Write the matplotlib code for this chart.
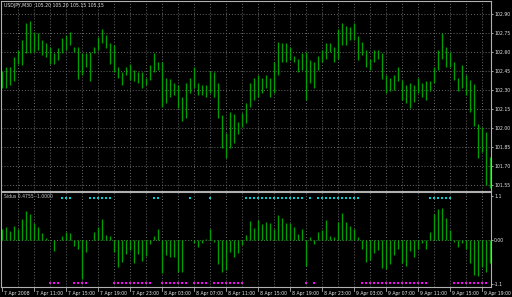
"""
Grafico estilo MetaTrader: barras USDJPY M30 con un indicador de histograma abajo.
"""

import matplotlib
matplotlib.use("Agg")
import matplotlib.pyplot as plt
import matplotlib.transforms as mtransforms
import numpy as np

# Maximos y minimos de cada barra
maximos = [
    102.45, 102.48, 102.48, 102.56, 102.62, 102.70, 102.83, 102.85, 102.76, 102.75,
    102.70, 102.67, 102.64, 102.59, 102.63, 102.71, 102.74, 102.76, 102.64, 102.64,
    102.59, 102.59, 102.60, 102.64, 102.72, 102.78, 102.74, 102.67, 102.66, 102.48,
    102.44, 102.48, 102.51, 102.46, 102.44, 102.44, 102.40, 102.50, 102.59, 102.52,
    102.52, 102.40, 102.39, 102.36, 102.34, 102.25, 102.36, 102.40, 102.48, 102.36,
    102.34, 102.34, 102.45, 102.44, 102.36, 102.10, 101.96, 102.13, 102.11, 102.05,
    102.12, 102.20, 102.36, 102.40, 102.42, 102.40, 102.42, 102.40, 102.52, 102.68,
    102.67, 102.67, 102.64, 102.57, 102.55, 102.59, 102.60, 102.54, 102.52, 102.57,
    102.62, 102.67, 102.67, 102.64, 102.78, 102.83, 102.81, 102.80, 102.83, 102.73,
    102.68, 102.62, 102.55, 102.62, 102.62, 102.59, 102.42, 102.40, 102.42, 102.48,
    102.38, 102.34, 102.36, 102.34, 102.40, 102.36, 102.37, 102.37, 102.48, 102.62,
    102.75, 102.64, 102.60, 102.52, 102.40, 102.50, 102.42, 102.38, 102.35, 102.03,
    102.01, 101.97, 101.77,
]
minimos = [
    102.32, 102.32, 102.34, 102.37, 102.51, 102.50, 102.59, 102.59, 102.60, 102.62,
    102.58, 102.56, 102.51, 102.51, 102.54, 102.59, 102.62, 102.66, 102.60, 102.39,
    102.42, 102.48, 102.37, 102.59, 102.62, 102.67, 102.63, 102.51, 102.44, 102.40,
    102.34, 102.42, 102.38, 102.37, 102.36, 102.32, 102.34, 102.38, 102.44, 102.46,
    102.17, 102.20, 102.25, 102.26, 102.16, 102.06, 102.08, 102.28, 102.32, 102.26,
    102.26, 102.25, 102.28, 102.25, 102.08, 101.84, 101.76, 101.84, 101.88, 101.95,
    102.01, 102.04, 102.17, 102.22, 102.25, 102.28, 102.32, 102.25, 102.28, 102.42,
    102.52, 102.52, 102.54, 102.52, 102.44, 102.46, 102.22, 102.36, 102.32, 102.46,
    102.52, 102.55, 102.60, 102.52, 102.55, 102.66, 102.66, 102.70, 102.70, 102.54,
    102.58, 102.48, 102.46, 102.52, 102.55, 102.39, 102.28, 102.29, 102.30, 102.37,
    102.22, 102.20, 102.16, 102.21, 102.28, 102.25, 102.22, 102.29, 102.36, 102.46,
    102.55, 102.48, 102.48, 102.38, 102.29, 102.32, 102.26, 102.13, 102.02, 101.76,
    101.81, 101.55, 101.53,
]

# Valores del histograma del indicador
histograma = [
    0.27, 0.33, 0.22, 0.36, 0.27, 0.52, 0.73, 0.64, 0.42, 0.32,
    0.18, 0.04, 0.01, -0.28, 0.01, 0.10, 0.21, 0.17, -0.15, -0.23,
    -0.96, -0.29, 0.01, 0.21, 0.33, 0.52, 0.12, 0.10, -0.30, -0.68,
    -0.54, -0.35, -0.25, -0.56, -0.35, -0.52, -0.40, -0.10, 0.11, 0.27,
    -0.82, -0.37, -0.42, -0.42, -0.79, -0.79, 0.01, 0.01, -0.07, -0.18,
    -0.08, 0.02, 0.27, -0.04, -0.60, -0.79, -0.75, -0.29, -0.42, -0.32,
    -0.12, 0.12, 0.47, 0.29, 0.50, 0.39, 0.44, 0.42, 0.27, 0.62,
    0.54, 0.42, 0.42, 0.32, 0.15, 0.27, -0.65, 0.07, -0.10, 0.19,
    0.25, 0.50, 0.11, 0.08, 0.46, 0.68, 0.44, 0.35, 0.27, 0.07,
    -0.23, -0.54, -0.50, -0.32, -0.25, -0.69, -0.73, -0.60, -0.37, -0.23,
    -0.57, -0.65, -0.27, -0.43, -0.23, -0.07, -0.23, 0.19, 0.64, 0.77,
    0.79, 0.56, 0.25, -0.04, -0.17, -0.07, -0.23, -0.58, -0.87, -0.90,
    -0.67, -0.79, -0.57,
]

# Barras marcadas con puntos arriba (cian) y abajo (magenta)
puntos_cian = ([15, 16, 17] + list(range(22, 28)) + [38, 39, 47, 52]
               + list(range(61, 76)) + [77] + list(range(79, 90))
               + list(range(107, 113)))
puntos_magenta = ([12, 13, 14] + list(range(18, 22)) + list(range(28, 38))
                  + list(range(40, 47)) + list(range(48, 52)) + list(range(53, 61))
                  + [76, 78] + list(range(90, 107)) + list(range(113, 122)))

# Etiquetas de precio y de tiempo
niveles_precio = [101.55, 101.70, 101.85, 102.00, 102.15, 102.30, 102.45, 102.60, 102.75, 102.90]
etiquetas_tiempo = [
    "7 Apr 2008", "7 Apr 11:00", "7 Apr 15:00", "7 Apr 19:00", "7 Apr 23:00",
    "8 Apr 03:00", "8 Apr 07:00", "8 Apr 11:00", "8 Apr 15:00", "8 Apr 19:00",
    "8 Apr 23:00", "9 Apr 03:00", "9 Apr 07:00", "9 Apr 11:00", "9 Apr 15:00",
    "9 Apr 19:00",
]
niveles_indicador = [1.1, 0.0, -1.1]
etiquetas_indicador = ["1.1", "0.00", "-1.1"]

titulo = "USDJPY,M30  105.20 105.20 105.15 105.15"
titulo_indicador = "Sidus 0.4755 -1.0000"

VERDE = "#00a000"
GRIS_GRID = "#6a6a6a"
GRIS_MARCO = "#b0b0b0"
TEXTO = "#e8e8e8"
FUENTE = 3.3

n = len(maximos)
x = np.arange(n)

W, H = 512, 297
fig = plt.figure(figsize=(W / 100, H / 100), dpi=100, facecolor="black")

ax = fig.add_axes([1 / W, 1 - 191 / H, 490 / W, 190 / H], facecolor="black")
ax_ind = fig.add_axes([1 / W, 1 - 287 / H, 490 / W, 95 / H], facecolor="black")

x0, x1 = -0.25, 122.25

# --- Panel principal ---
ax.vlines(x, minimos, maximos, color=VERDE, linewidth=0.95)
ax.set_xlim(x0, x1)
ax.set_ylim(101.503, 103.005)
ax.set_yticks(niveles_precio)
ax.set_yticklabels([f"{v:.2f}" for v in niveles_precio])
ax.set_xticks(np.arange(4, n, 4))
ax.set_xticklabels([])
ax.grid(True, color=GRIS_GRID, linestyle=(0, (1, 2)), linewidth=0.7)
ax.text(0.006, 0.988, titulo, transform=ax.transAxes, color=TEXTO,
        fontsize=FUENTE, va="top", ha="left")

# --- Panel del indicador ---
ax_ind.vlines(x, 0, histograma, color=VERDE, linewidth=0.95)
ax_ind.axhline(0, color="#3a8a3a", linestyle=(0, (1, 2)), linewidth=0.7)
ax_ind.scatter(puntos_cian, [1.05] * len(puntos_cian), marker="s", s=1.2,
               color="#00d0d0", linewidths=0)
ax_ind.scatter(puntos_magenta, [-1.06] * len(puntos_magenta), marker="s", s=1.2,
               color="#ff00ff", linewidths=0)
ax_ind.set_xlim(x0, x1)
ax_ind.set_ylim(-1.17, 1.2)
ax_ind.set_yticks(niveles_indicador)
ax_ind.set_yticklabels(etiquetas_indicador)
ax_ind.set_xticks(np.arange(4, n, 4))
ax_ind.set_xticklabels([])
ax_ind.grid(True, axis="x", color=GRIS_GRID, linestyle=(0, (1, 2)), linewidth=0.7)
ax_ind.text(0.006, 0.975, titulo_indicador, transform=ax_ind.transAxes,
            color="#c8c8c8", fontsize=FUENTE, va="top", ha="left")

# Etiquetas de tiempo debajo del indicador
trans = mtransforms.blended_transform_factory(ax_ind.transData, ax_ind.transAxes)
for k, etiqueta in enumerate(etiquetas_tiempo):
    xi = 8 * k
    ax_ind.plot([xi, xi], [0, -0.04], color=GRIS_MARCO, linewidth=0.6,
                transform=trans, clip_on=False)
    ax_ind.text(xi + 0.5, -0.045, etiqueta, transform=trans, color=TEXTO,
                fontsize=FUENTE, va="top", ha="left", clip_on=False)

for a in (ax, ax_ind):
    a.yaxis.tick_right()
    a.tick_params(axis="y", colors=TEXTO, labelsize=FUENTE, length=1.5, width=0.5, pad=0.8)
    a.tick_params(axis="x", length=0)
    for s in a.spines.values():
        s.set_color(GRIS_MARCO)
        s.set_linewidth(0.8)

fig.savefig("out.png", dpi=100, facecolor="black")
